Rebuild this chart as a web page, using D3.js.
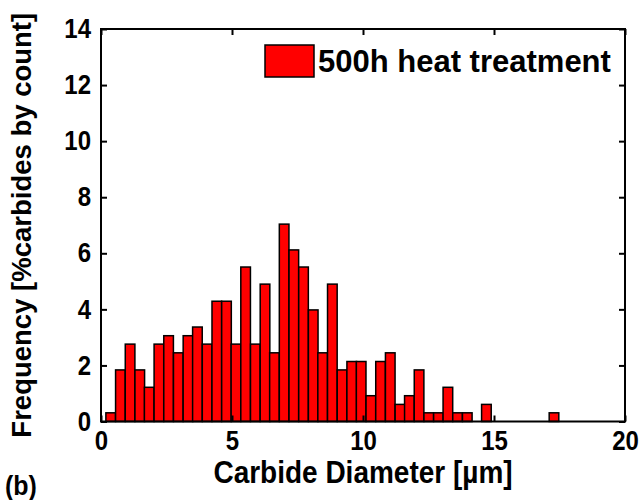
<!DOCTYPE html>
<html>
<head>
<meta charset="utf-8">
<script src="https://cdn.jsdelivr.net/npm/d3@7"></script>
<style>
  html, body { margin: 0; padding: 0; background: #fff; }
  svg text { font-family: "Liberation Sans", Arial, Helvetica, sans-serif; font-weight: bold; fill: #000; }
</style>
</head>
<body>
<svg id="chart" width="644" height="500"></svg>
<script>
// Histogram of carbide diameters after 500 h heat treatment
const binCenters = [0.37, 0.74, 1.11, 1.48, 1.84, 2.21, 2.58, 2.95, 3.32, 3.68,
                    4.05, 4.42, 4.79, 5.15, 5.52, 5.89, 6.26, 6.62, 6.99, 7.36,
                    7.73, 8.10, 8.46, 8.83, 9.20, 9.57, 9.93, 10.30, 10.67, 11.04,
                    11.41, 11.77, 12.14, 12.51, 12.88, 13.24, 13.61, 13.98, 14.35, 14.71,
                    15.08, 15.45, 15.82, 16.18, 16.55, 16.92, 17.29];
const frequency = [0.31, 1.84, 2.76, 1.84, 1.22, 2.76, 3.06, 2.45, 3.06, 3.37,
                   2.76, 4.29, 4.29, 2.76, 5.51, 2.76, 4.90, 2.45, 7.04, 6.12,
                   5.51, 3.98, 2.45, 4.90, 1.84, 2.14, 2.14, 0.92, 2.14, 2.45,
                   0.61, 0.92, 1.84, 0.31, 0.31, 1.22, 0.31, 0.31, 0, 0.61,
                   0, 0, 0, 0, 0, 0, 0.31];
const xTicks = [0, 5, 10, 15, 20];
const yTicks = [0, 2, 4, 6, 8, 10, 12, 14];
const seriesName = "500h heat treatment";
const binWidth = 0.3677;

const svg = d3.select("#chart");
const m = { left: 101, right: 625, top: 29, bottom: 421.5 };
const tall = 1.13; // glyphs are drawn slightly tall and narrow

const x = d3.scaleLinear().domain([0, 20]).range([m.left, m.right]);
const y = d3.scaleLinear().domain([0, 14]).range([m.bottom, m.top]);

// bars
svg.append("g").selectAll("rect")
  .data(binCenters.map((c, i) => ({ c, v: frequency[i] })).filter(d => d.v > 0))
  .join("rect")
  .attr("x", d => x(d.c - binWidth / 2))
  .attr("width", d => x(d.c + binWidth / 2) - x(d.c - binWidth / 2))
  .attr("y", d => y(d.v))
  .attr("height", d => y(0) - y(d.v))
  .attr("fill", "#ff0000")
  .attr("stroke", "#000")
  .attr("stroke-width", 1.5);

// axes with inward ticks on all four sides
const tickLen = 6;
const fs = 24;
const axB = svg.append("g").attr("transform", `translate(0,${m.bottom})`)
  .call(d3.axisBottom(x).tickValues(xTicks).tickSizeInner(-tickLen).tickSizeOuter(0).tickPadding(8));
const axT = svg.append("g").attr("transform", `translate(0,${m.top})`)
  .call(d3.axisTop(x).tickValues(xTicks).tickSizeInner(-tickLen).tickSizeOuter(0).tickFormat(""));
const axL = svg.append("g").attr("transform", `translate(${m.left},0)`)
  .call(d3.axisLeft(y).tickValues(yTicks).tickSizeInner(-tickLen).tickSizeOuter(0).tickPadding(10));
const axR = svg.append("g").attr("transform", `translate(${m.right},0)`)
  .call(d3.axisRight(y).tickValues(yTicks).tickSizeInner(-tickLen).tickSizeOuter(0).tickFormat(""));

[axB, axT, axL, axR].forEach(g => {
  g.select(".domain").remove();
  g.attr("font-size", null).attr("font-family", null);
  g.selectAll(".tick line").attr("stroke", "#000").attr("stroke-width", 2);
  g.selectAll(".tick text")
    .style("font-size", fs + "px").style("font-weight", "bold")
    .attr("transform", `scale(1,${tall})`);
});
axB.selectAll(".tick text").attr("dy", "0.71em");

// frame
svg.append("rect")
  .attr("x", m.left).attr("y", m.top)
  .attr("width", m.right - m.left).attr("height", m.bottom - m.top)
  .attr("fill", "none").attr("stroke", "#000").attr("stroke-width", 2);

// axis titles
svg.append("text")
  .attr("transform", `translate(${(m.left + m.right) / 2},483) scale(1,${tall})`)
  .attr("text-anchor", "middle").style("font-size", "28px")
  .text("Carbide Diameter [\u00B5m]");
svg.append("text")
  .attr("transform", `translate(31,${(m.top + m.bottom) / 2}) rotate(-90)`)
  .attr("text-anchor", "middle").style("font-size", "27.5px")
  .text("Frequency [%carbides by count]");
svg.append("text")
  .attr("transform", `translate(5,495) scale(1,${tall})`)
  .style("font-size", "25px")
  .text("(b)");

// legend
svg.append("rect")
  .attr("x", 265).attr("y", 45).attr("width", 49).attr("height", 32)
  .attr("fill", "#ff0000").attr("stroke", "#000").attr("stroke-width", 1.5);
svg.append("text")
  .attr("x", 318).attr("y", 72).style("font-size", "31px")
  .text(seriesName);
</script>
</body>
</html>
